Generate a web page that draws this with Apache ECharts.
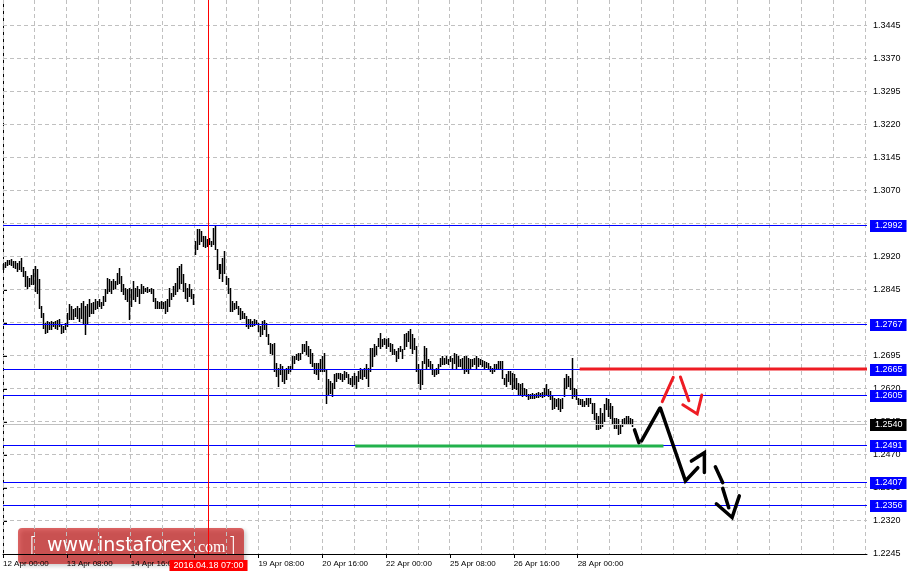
<!DOCTYPE html>
<html><head><meta charset="utf-8">
<script src="https://cdn.jsdelivr.net/npm/echarts@6/dist/echarts.min.js"></script>
<style>html,body{margin:0;padding:0;background:#fff}#c{width:912px;height:578px}</style>
</head><body><div id="c"></div>
<script>
// H1 bars, index 0 = 12 Apr 00:00
const barHighs = [
1.2904,1.2909,1.2913,1.2913,1.2915,1.2911,1.2911,1.2906,1.2911,1.2918,
1.2897,1.2888,1.2877,1.2872,1.2879,1.2893,1.2900,1.2893,1.2870,1.2809,
1.2793,1.2770,1.2775,1.2772,1.2775,1.2772,1.2775,1.2777,1.2779,1.2768,
1.2763,1.2770,1.2793,1.2813,1.2809,1.2802,1.2804,1.2809,1.2804,1.2815,
1.2820,1.2809,1.2813,1.2825,1.2815,1.2818,1.2825,1.2820,1.2825,1.2818,
1.2831,1.2847,1.2872,1.2870,1.2865,1.2870,1.2865,1.2884,1.2895,1.2877,
1.2859,1.2850,1.2847,1.2850,1.2847,1.2865,1.2850,1.2854,1.2847,1.2859,
1.2854,1.2850,1.2852,1.2847,1.2850,1.2847,1.2827,1.2820,1.2818,1.2820,
1.2818,1.2820,1.2825,1.2850,1.2838,1.2854,1.2861,1.2895,1.2900,1.2904,
1.2881,1.2861,1.2850,1.2859,1.2847,1.2836,1.2956,1.2984,1.2984,1.2979,
1.2968,1.2968,1.2961,1.2963,1.2956,1.2986,1.2991,1.2938,1.2904,1.2904,
1.2918,1.2934,1.2877,1.2872,1.2850,1.2820,1.2815,1.2820,1.2809,1.2804,
1.2797,1.2793,1.2786,1.2779,1.2779,1.2775,1.2779,1.2777,1.2770,1.2763,
1.2775,1.2777,1.2770,1.2745,1.2725,1.2722,1.2725,1.2679,1.2668,1.2677,
1.2672,1.2665,1.2668,1.2672,1.2672,1.2695,1.2695,1.2700,1.2702,1.2702,
1.2722,1.2722,1.2729,1.2718,1.2711,1.2702,1.2679,1.2679,1.2679,1.2688,
1.2695,1.2702,1.2665,1.2643,1.2638,1.2634,1.2654,1.2656,1.2656,1.2656,
1.2654,1.2661,1.2659,1.2654,1.2645,1.2650,1.2656,1.2650,1.2661,1.2668,
1.2665,1.2668,1.2677,1.2668,1.2713,1.2713,1.2722,1.2718,1.2736,1.2747,
1.2734,1.2736,1.2734,1.2736,1.2725,1.2722,1.2711,1.2706,1.2713,1.2718,
1.2711,1.2745,1.2747,1.2752,1.2756,1.2745,1.2736,1.2718,1.2677,1.2665,
1.2684,1.2718,1.2713,1.2688,1.2684,1.2677,1.2665,1.2668,1.2677,1.2691,
1.2695,1.2691,1.2695,1.2688,1.2695,1.2691,1.2702,1.2700,1.2695,1.2688,
1.2691,1.2695,1.2695,1.2691,1.2688,1.2688,1.2691,1.2695,1.2691,1.2688,
1.2686,1.2684,1.2681,1.2679,1.2672,1.2668,1.2677,1.2677,1.2684,1.2684,
1.2684,1.2645,1.2654,1.2661,1.2661,1.2656,1.2654,1.2645,1.2634,1.2631,
1.2634,1.2622,1.2620,1.2609,1.2609,1.2611,1.2609,1.2611,1.2613,1.2611,
1.2613,1.2622,1.2631,1.2620,1.2615,1.2604,1.2600,1.2597,1.2600,1.2597,
1.2600,1.2645,1.2654,1.2650,1.2645,1.2691,1.2622,1.2620,1.2600,1.2597,
1.2597,1.2593,1.2600,1.2600,1.2600,1.2588,1.2588,1.2565,1.2559,1.2577,
1.2565,1.2586,1.2600,1.2597,1.2588,1.2581,1.2554,1.2554,1.2552,1.2540,
1.2552,1.2554,1.2559,1.2559,1.2554,1.2552
];
const barLows = [
1.2893,1.2897,1.2902,1.2904,1.2902,1.2897,1.2895,1.2888,1.2893,1.2888,
1.2877,1.2854,1.2850,1.2854,1.2859,1.2859,1.2843,1.2838,1.2804,1.2784,
1.2759,1.2747,1.2750,1.2756,1.2756,1.2763,1.2759,1.2756,1.2763,1.2747,
1.2750,1.2756,1.2763,1.2779,1.2779,1.2779,1.2786,1.2781,1.2775,1.2781,
1.2768,1.2745,1.2770,1.2786,1.2793,1.2793,1.2802,1.2804,1.2809,1.2804,
1.2811,1.2820,1.2838,1.2843,1.2838,1.2847,1.2850,1.2859,1.2861,1.2843,
1.2836,1.2825,1.2820,1.2779,1.2809,1.2825,1.2820,1.2831,1.2815,1.2838,
1.2838,1.2843,1.2840,1.2843,1.2838,1.2820,1.2804,1.2804,1.2804,1.2804,
1.2804,1.2793,1.2797,1.2809,1.2825,1.2831,1.2836,1.2843,1.2850,1.2861,
1.2843,1.2827,1.2820,1.2831,1.2827,1.2813,1.2927,1.2938,1.2950,1.2956,
1.2945,1.2941,1.2945,1.2950,1.2945,1.2950,1.2938,1.2893,1.2872,1.2884,
1.2865,1.2884,1.2859,1.2838,1.2797,1.2797,1.2802,1.2804,1.2790,1.2779,
1.2781,1.2781,1.2763,1.2759,1.2763,1.2763,1.2765,1.2768,1.2752,1.2740,
1.2745,1.2756,1.2740,1.2722,1.2702,1.2700,1.2661,1.2650,1.2627,1.2654,
1.2638,1.2634,1.2643,1.2656,1.2661,1.2665,1.2679,1.2688,1.2686,1.2688,
1.2702,1.2706,1.2700,1.2695,1.2679,1.2672,1.2656,1.2654,1.2643,1.2661,
1.2661,1.2661,1.2588,1.2609,1.2611,1.2604,1.2622,1.2638,1.2645,1.2643,
1.2638,1.2643,1.2647,1.2634,1.2631,1.2627,1.2631,1.2622,1.2638,1.2645,
1.2643,1.2650,1.2645,1.2627,1.2661,1.2672,1.2695,1.2700,1.2718,1.2713,
1.2718,1.2722,1.2713,1.2718,1.2706,1.2700,1.2700,1.2684,1.2691,1.2706,
1.2691,1.2711,1.2718,1.2729,1.2713,1.2702,1.2711,1.2661,1.2634,1.2620,
1.2631,1.2679,1.2665,1.2672,1.2668,1.2654,1.2650,1.2654,1.2656,1.2672,
1.2677,1.2677,1.2679,1.2677,1.2684,1.2665,1.2679,1.2668,1.2672,1.2672,
1.2668,1.2656,1.2661,1.2656,1.2668,1.2672,1.2677,1.2668,1.2672,1.2677,
1.2672,1.2668,1.2670,1.2665,1.2661,1.2656,1.2661,1.2665,1.2668,1.2668,
1.2645,1.2631,1.2627,1.2638,1.2631,1.2620,1.2622,1.2620,1.2609,1.2609,
1.2604,1.2609,1.2604,1.2597,1.2600,1.2600,1.2600,1.2602,1.2602,1.2604,
1.2602,1.2604,1.2609,1.2604,1.2597,1.2575,1.2577,1.2581,1.2575,1.2570,
1.2577,1.2604,1.2622,1.2627,1.2620,1.2600,1.2604,1.2597,1.2586,1.2586,
1.2581,1.2581,1.2586,1.2581,1.2588,1.2565,1.2552,1.2529,1.2529,1.2531,
1.2536,1.2547,1.2575,1.2559,1.2554,1.2543,1.2531,1.2531,1.2518,1.2520,
1.2536,1.2540,1.2543,1.2543,1.2540,1.2536
];
const xTickLabels = ['12 Apr 00:00','13 Apr 08:00','14 Apr 16:00','18 Apr 00:00','19 Apr 08:00','20 Apr 16:00','22 Apr 00:00','25 Apr 08:00','26 Apr 16:00','28 Apr 00:00'];
const yTickValues = [1.2245,1.2320,1.2395,1.2470,1.2545,1.2620,1.2695,1.2770,1.2845,1.2920,1.2995,1.3070,1.3145,1.3220,1.3295,1.3370,1.3445];
const blueLevels = [1.2992,1.2767,1.2665,1.2605,1.2491,1.2407,1.2356];
const bidPrice = 1.2540;
const resistanceSeg = [[289,1.2665],[433,1.2665]];
const supportSeg = [[176.5,1.2491],[331,1.2491]];
const markerIndex = 103;
const markerLabel = '2016.04.18 07:00';
const blackStrokes = [
  [[316.5,1.2527],[318.7,1.2498]],
  [[320,1.2502],[329.2,1.2576]],
  [[329.5,1.2576],[342,1.2411],[348.2,1.2441]],
  [[345,1.2456],[351.5,1.2475],[351.5,1.2430]],
  [[357,1.2443],[360.7,1.2407]],
  [[360.7,1.2394],[363.7,1.2350]],
  [[357.5,1.2359],[365.4,1.2328],[369,1.2377]]
];
const redStrokes = [
  [[330.4,1.2591],[335.9,1.2646]],
  [[339.5,1.2647],[343.7,1.2593]],
  [[340.7,1.2584],[347.9,1.2563],[350.2,1.2606]]
];
const xMax = 433, xGridStep = 16, xLabelStep = 32;

const FONT = 'Liberation Sans, Arial, sans-serif';
const chart = echarts.init(document.getElementById('c'), null, {renderer:'canvas'});
const barData = barHighs.map((h,i)=>[i, barLows[i], h]);
const xTickVals = xTickLabels.map((_,k)=>k*xLabelStep);
const vGridVals = [];
for (let v=0; v<=xMax; v+=xGridStep) vGridVals.push(v);

const crisp = v => Math.floor(v) + 0.5;

// horizontal price line (+ optional price box) drawn through the axes' scales
function hLevelSeries(values, color, boxColor, z){
  return {type:'custom', z:z, silent:true, data:values.map(v=>[0, v]),
    renderItem:function(params, api){
      const cs = params.coordSys;
      const y = crisp(api.coord([0, api.value(1)])[1]);
      const children = [{type:'line', shape:{x1:cs.x, y1:y, x2:cs.x+cs.width, y2:y}, style:{stroke:color, lineWidth:1}}];
      if (boxColor) children.push({type:'text', x:cs.x+cs.width+3, y:y+0.5,
        style:{text:Number(api.value(1)).toFixed(4), fill:'#fff', backgroundColor:boxColor, padding:[1,4,1,5],
          font:'9px '+FONT, verticalAlign:'middle', align:'left', lineHeight:10}});
      return {type:'group', children:children};
    }};
}

chart.setOption({
  animation:false,
  backgroundColor:'#fff',
  grid:{left:1, right:45, top:0, bottom:24, containLabel:false},
  xAxis:{type:'value', min:0, max:xMax, position:'bottom',
    axisLine:{show:true, onZero:false, lineStyle:{color:'#000', width:1}},
    axisTick:{show:true, length:4, lineStyle:{color:'#000'}, customValues:xTickVals},
    axisLabel:{show:true, customValues:xTickVals, formatter:v=>{const k=Math.round(v/xLabelStep);return (k*xLabelStep===v && xTickLabels[k])?xTickLabels[k]:'';},
      align:'left', fontSize:8, fontFamily:FONT, color:'#000', margin:6},
    splitLine:{show:false}},
  yAxis:{type:'value', min:1.2245, max:1.3503, position:'right', scale:true,
    axisLine:{show:true, lineStyle:{color:'#000', width:1}},
    axisTick:{show:true, length:4, lineStyle:{color:'#000'}, customValues:yTickValues},
    axisLabel:{show:true, customValues:yTickValues, formatter:v=>Number(v).toFixed(4), fontSize:9, fontFamily:FONT, color:'#000', margin:6},
    splitLine:{show:false}},
  series:[
    // dashed grid: horizontal
    {type:'custom', z:1, silent:true, data:yTickValues.slice(1).map(v=>[0,v]),
      renderItem:function(params, api){
        const cs = params.coordSys;
        const y = crisp(api.coord([0, api.value(1)])[1]);
        return {type:'line', shape:{x1:cs.x, y1:y, x2:cs.x+cs.width, y2:y}, style:{stroke:'#c0c0c0', lineWidth:1, lineDash:[4,3]}};
      }},
    // dashed grid: vertical
    {type:'custom', z:1, silent:true, data:vGridVals.map(v=>[v,1.2245]),
      renderItem:function(params, api){
        const cs = params.coordSys;
        const x = crisp(api.coord([api.value(0), 1.2245])[0]);
        return {type:'line', shape:{x1:x, y1:cs.y, x2:x, y2:cs.y+cs.height}, style:{stroke:'#c0c0c0', lineWidth:1, lineDash:[4,3]}};
      }},
    // price bars (high-low)
    {type:'custom', z:2, silent:true, data:barData,
      renderItem:function(params, api){
        const i = api.value(0);
        const lo = api.coord([i, api.value(1)]);
        const hi = api.coord([i, api.value(2)]);
        const x = Math.round(lo[0]) + 0.5;
        return {type:'line', shape:{x1:x, y1:Math.round(hi[1]), x2:x, y2:Math.round(lo[1])+1},
          style:{stroke:'#000', lineWidth:1.5}};
      }},
    hLevelSeries([bidPrice], '#c0c0c0', '#000000', 3),
    hLevelSeries(blueLevels, '#0000ff', '#0000ff', 3),
    // vertical time marker
    {type:'custom', z:3, silent:true, data:[[markerIndex, 1.2245]],
      renderItem:function(params, api){
        const cs = params.coordSys;
        const x = crisp(api.coord([api.value(0), 1.2245])[0]);
        return {type:'group', children:[
          {type:'line', shape:{x1:x, y1:cs.y, x2:x, y2:cs.y+cs.height}, style:{stroke:'#ff0000', lineWidth:1}},
          {type:'text', x:x, y:cs.y+cs.height+6, style:{text:markerLabel, fill:'#fff', backgroundColor:'#ff0000',
            padding:[1,4,0,4], font:'9px '+FONT, align:'center', verticalAlign:'top', lineHeight:10}}
        ]};
      }},
    // thick resistance / support segments
    {type:'custom', z:4, silent:true, data:[[...resistanceSeg[0], resistanceSeg[1][0]], [...supportSeg[0], supportSeg[1][0]]],
      renderItem:function(params, api){
        const a = api.coord([api.value(0), api.value(1)]);
        const b = api.coord([api.value(2), api.value(1)]);
        const y = Math.round(a[1]);
        return {type:'line', shape:{x1:a[0], y1:y, x2:b[0], y2:y},
          style:{stroke: params.dataIndex === 0 ? '#ee1c24' : '#22b14c', lineWidth:3}};
      }},
    {type:'lines', coordinateSystem:'cartesian2d', polyline:true, z:5, silent:true,
      lineStyle:{color:'#000', width:3.5, cap:'round', opacity:1},
      data: blackStrokes.map(c=>({coords:c}))},
    {type:'lines', coordinateSystem:'cartesian2d', polyline:true, z:5, silent:true,
      lineStyle:{color:'#ee1c24', width:3, cap:'round', opacity:1},
      data: redStrokes.map(c=>({coords:c}))}
  ],
  graphic:[{type:'group', left:18, top:528, z:100, silent:true, children:[
    {type:'rect', shape:{x:0, y:0, width:226, height:36, r:4},
      style:{fill:'rgba(200,0,0,0.6)', shadowBlur:4, shadowOffsetX:2, shadowOffsetY:2, shadowColor:'rgba(0,0,0,0.35)'}},
    {type:'text', x:11, y:19, style:{text:'[', fill:'#fff', font:'300 21px DejaVu Sans', verticalAlign:'middle'}},
    {type:'text', x:29, y:18, style:{text:'www.instaforex', fill:'#fff', font:'19px DejaVu Sans', verticalAlign:'middle'}},
    {type:'text', x:176, y:20, style:{text:'.com', fill:'#fff', font:'16px Liberation Sans Narrow', verticalAlign:'middle'}},
    {type:'text', x:210, y:19, style:{text:']', fill:'#fff', font:'300 21px DejaVu Sans', verticalAlign:'middle'}}
  ]}]
});
</script></body></html>
